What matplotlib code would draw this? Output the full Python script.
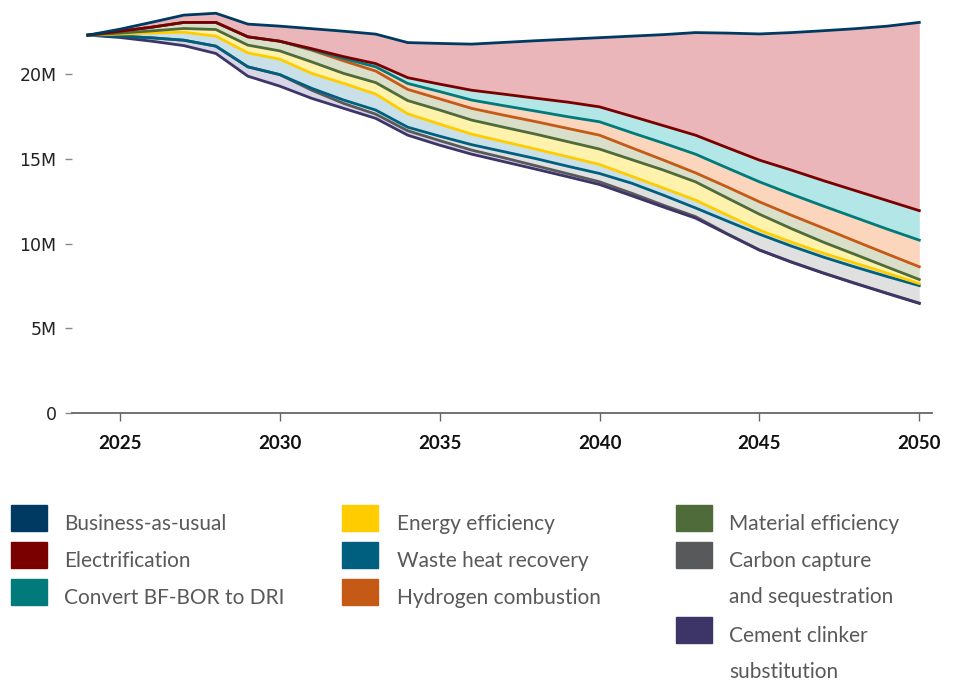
import numpy as np
import matplotlib
matplotlib.use("Agg")
import matplotlib.pyplot as plt
from matplotlib.patches import Rectangle
from matplotlib.ticker import FuncFormatter

years = list(range(2024, 2051))

# emissions in millions
bau = [22.29, 22.64, 23.05, 23.47, 23.58, 22.94, 22.82, 22.67, 22.52, 22.35,
       21.85, 21.80, 21.76, 21.86, 21.96, 22.05, 22.14, 22.23, 22.32, 22.44,
       22.41, 22.36, 22.44, 22.55, 22.67, 22.82, 23.04]
electrification = [22.29, 22.52, 22.76, 23.04, 23.04, 22.19, 21.93, 21.49, 21.02, 20.61,
                   19.78, 19.40, 19.04, 18.81, 18.57, 18.34, 18.06, 17.51, 16.95, 16.39,
                   15.65, 14.92, 14.33, 13.71, 13.12, 12.53, 11.94]
dri = [22.29, 22.52, 22.76, 23.04, 23.04, 22.19, 21.93, 21.44, 20.91, 20.42,
       19.44, 18.96, 18.46, 18.13, 17.81, 17.48, 17.18, 16.54, 15.92, 15.27,
       14.45, 13.64, 12.91, 12.21, 11.53, 10.85, 10.20]
hydrogen = [22.29, 22.52, 22.76, 23.04, 23.04, 22.19, 21.93, 21.40, 20.77, 20.17,
            19.09, 18.53, 17.97, 17.57, 17.19, 16.79, 16.39, 15.65, 14.92, 14.17,
            13.33, 12.46, 11.67, 10.91, 10.14, 9.38, 8.63]
material = [22.29, 22.41, 22.54, 22.68, 22.62, 21.70, 21.36, 20.71, 20.03, 19.49,
            18.43, 17.87, 17.28, 16.86, 16.45, 16.01, 15.57, 14.95, 14.33, 13.64,
            12.68, 11.73, 10.88, 10.08, 9.35, 8.61, 7.88]
energy = [22.29, 22.35, 22.42, 22.46, 22.23, 21.24, 20.87, 20.03, 19.44, 18.81,
          17.65, 17.04, 16.45, 16.01, 15.57, 15.12, 14.66, 13.97, 13.27, 12.56,
          11.67, 10.79, 10.08, 9.43, 8.84, 8.25, 7.64]
waste_heat = [22.29, 22.23, 22.13, 21.99, 21.64, 20.42, 19.96, 19.15, 18.46, 17.87,
              16.86, 16.33, 15.83, 15.42, 15.01, 14.56, 14.13, 13.56, 12.85, 12.10,
              11.32, 10.55, 9.85, 9.20, 8.61, 8.05, 7.52]
ccs = [22.29, 22.23, 22.13, 21.99, 21.64, 20.42, 19.96, 19.04, 18.26, 17.63,
       16.65, 16.07, 15.51, 15.06, 14.59, 14.12, 13.64, 12.97, 12.26, 11.59,
       10.57, 9.63, 8.92, 8.27, 7.66, 7.07, 6.49]
cement = [22.29, 22.15, 21.93, 21.67, 21.21, 19.87, 19.28, 18.56, 17.97, 17.38,
          16.39, 15.80, 15.27, 14.83, 14.39, 13.94, 13.48, 12.82, 12.15, 11.50,
          10.55, 9.61, 8.90, 8.25, 7.64, 7.05, 6.47]

# stack order top to bottom
series = [
    ("Business-as-usual", bau, "#003a63", "#ebb6ba"),
    ("Electrification", electrification, "#7a0000", "#b3e6e6"),
    ("Convert BF-BOR to DRI", dri, "#007a7a", "#fbd6bc"),
    ("Hydrogen combustion", hydrogen, "#c55a17", "#d9dfc8"),
    ("Material efficiency", material, "#4f6b3a", "#fff2ac"),
    ("Energy efficiency", energy, "#ffcc00", "#c9e0e8"),
    ("Waste heat recovery", waste_heat, "#005f7f", "#e0e0e0"),
    ("Carbon capture\nand sequestration", ccs, "#58595b", "#d8d5e6"),
    ("Cement clinker\nsubstitution", cement, "#3d3468", None),
]

fig = plt.figure(figsize=(9.56, 6.84), dpi=100)
ax = fig.add_axes([0.0753, 0.396, 0.8997, 0.600])

x = np.array(years)
for i in range(len(series) - 1):
    upper = np.array(series[i][1]) * 1e6
    lower = np.array(series[i + 1][1]) * 1e6
    ax.fill_between(x, lower, upper, color=series[i][3], lw=0, zorder=1)

draw_order = [7, 8, 6, 5, 4, 3, 2, 1, 0]
for k in draw_order:
    name, vals, col, _ = series[k]
    ax.plot(x, np.array(vals) * 1e6, color=col, lw=2.0, zorder=3,
            solid_joinstyle="miter")

ax.set_xlim(2023.5, 2050.4)
ax.set_ylim(0, 24.2e6)
for s in ["top", "right", "left"]:
    ax.spines[s].set_visible(False)
ax.spines["bottom"].set_color("#666666")
ax.spines["bottom"].set_linewidth(1.3)

ax.set_yticks([0, 5e6, 10e6, 15e6, 20e6])
ax.yaxis.set_major_formatter(FuncFormatter(lambda v, p: "0" if v == 0 else f"{int(v / 1e6)}M"))
ax.set_xticks([2025, 2030, 2035, 2040, 2045, 2050])
ax.tick_params(axis="y", length=5, width=1, color="#888888", pad=6,
               labelsize=12.5, labelcolor="#222222")
ax.tick_params(axis="x", length=6, width=1, color="#666666", pad=10)
for lab in ax.get_xticklabels():
    lab.set_fontfamily("Lato")
    lab.set_fontweight("bold")
    lab.set_fontsize(13.5)
    lab.set_color("#111111")

# legend laid out in three columns
W, H = 956, 684
cols = [(11, 64), (342, 397), (676, 729)]
slots = [(0, 0), (0, 1), (0, 2), (1, 0), (1, 1), (1, 2), (2, 0), (2, 1), (2, 3)]
legend_order = [0, 1, 2, 5, 6, 3, 4, 7, 8]
row_y = [518, 555, 592, 630]
for idx, (c, r) in zip(legend_order, slots):
    name, _, col, _ = series[idx]
    sx, tx = cols[c]
    yc = row_y[r]
    fig.patches.append(Rectangle((sx / W, 1 - (yc + 13) / H), 36 / W, 26 / H,
                                 transform=fig.transFigure, color=col))
    for j, line in enumerate(name.split("\n")):
        fig.text(tx / W, 1 - (yc + 6 + 36 * j) / H, line, fontsize=15,
                 family="Lato", color="#595959", va="center", ha="left")

fig.savefig("out.png", dpi=100)
